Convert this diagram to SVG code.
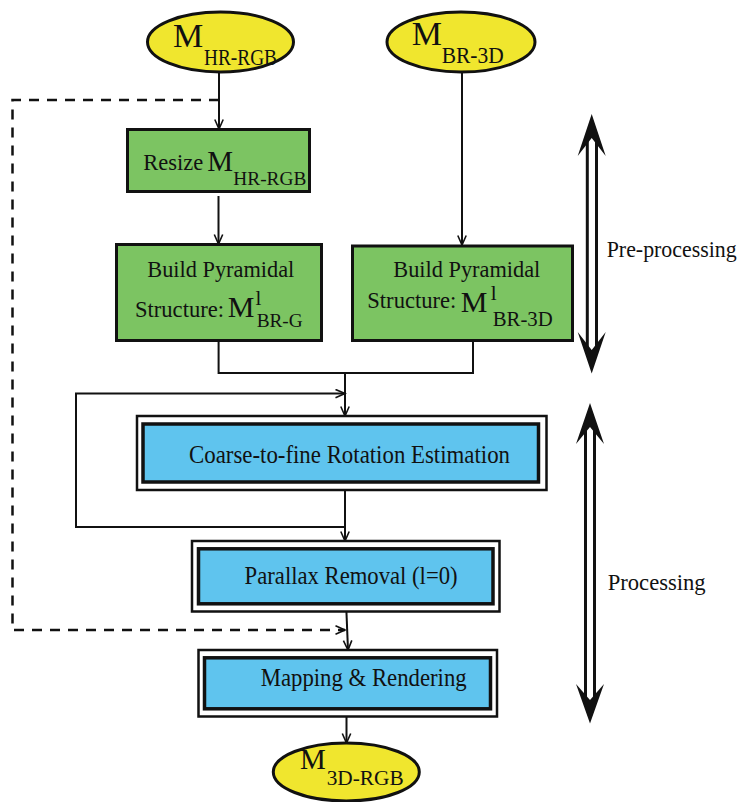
<svg xmlns="http://www.w3.org/2000/svg" width="745" height="802" viewBox="0 0 745 802">
<defs>
<style>
.t{font-family:"Liberation Serif","Times New Roman",serif;fill:#111;}
.ell{fill:#f0e62e;stroke:#111;stroke-width:3;}
.grn{fill:#7cc462;stroke:#111;stroke-width:3;}
.outer{fill:#fff;stroke:#111;stroke-width:2.5;}
.blue{fill:#5fc4ee;stroke:#111;stroke-width:3.5;}
.c{fill:none;stroke:#111;stroke-width:2;}
.d{fill:none;stroke:#111;stroke-width:2.5;stroke-dasharray:10 8;}
.stem{stroke:#111;stroke-width:3;}
</style>
<marker id="ah" markerWidth="12" markerHeight="12" refX="10" refY="5" orient="auto" markerUnits="userSpaceOnUse">
<path d="M0.5,0.8 L10,5 L0.5,9.2" fill="none" stroke="#111" stroke-width="1.6"/>
</marker>
</defs>

<g id="connectors">
<line class="c" x1="219" y1="72" x2="219" y2="129" marker-end="url(#ah)"/>
<polyline class="d" points="219,100 12.5,100 12.5,630 345,630" marker-end="url(#ah)"/>
<line class="c" x1="462" y1="73" x2="462" y2="245" marker-end="url(#ah)"/>
<line class="c" x1="218.5" y1="196" x2="218.5" y2="244" marker-end="url(#ah)"/>
<polyline class="c" points="218.6,342 218.6,373 473,373 473,342"/>
<line class="c" x1="345" y1="373" x2="345" y2="416" marker-end="url(#ah)"/>
<polyline class="c" points="345,527 76,527 76,393.6 345,393.6" marker-end="url(#ah)"/>
<line class="c" x1="345" y1="490" x2="345" y2="541" marker-end="url(#ah)"/>
<line class="c" x1="346.4" y1="611" x2="348" y2="650" marker-end="url(#ah)"/>
<line class="c" x1="346.5" y1="716" x2="346.5" y2="743" marker-end="url(#ah)"/>
</g>

<g id="m-hr-rgb">
<ellipse class="ell" cx="220.5" cy="42" rx="73" ry="30"/>
<text class="t" font-size="34"><tspan x="173" y="46.7">M</tspan><tspan x="204" y="65" font-size="24" textLength="73" lengthAdjust="spacingAndGlyphs">HR-RGB</tspan></text>
</g>

<g id="m-br-3d">
<ellipse class="ell" cx="461" cy="42" rx="74" ry="30"/>
<text class="t" font-size="34"><tspan x="411.7" y="45">M</tspan><tspan x="441.7" y="63.3" font-size="23" textLength="62" lengthAdjust="spacingAndGlyphs">BR-3D</tspan></text>
</g>

<g id="resize">
<rect class="grn" x="127.5" y="129.5" width="182" height="62"/>
<text class="t" font-size="23"><tspan x="143.3" y="170" textLength="60" lengthAdjust="spacingAndGlyphs">Resize</tspan><tspan x="207.3" y="170.7" font-size="29">M</tspan><tspan x="233.3" y="185" font-size="19.5" textLength="73" lengthAdjust="spacingAndGlyphs">HR-RGB</tspan></text>
</g>

<g id="pyramid-left">
<rect class="grn" x="116.5" y="244.5" width="205" height="96"/>
<text class="t" x="147.3" y="276.7" font-size="23.5" textLength="147" lengthAdjust="spacingAndGlyphs">Build Pyramidal</text>
<text class="t" font-size="22.6"><tspan x="135" y="316.7" textLength="89" lengthAdjust="spacingAndGlyphs">Structure:</tspan><tspan x="227.8" y="316.7" font-size="30">M</tspan><tspan x="255.5" y="305" font-size="21">l</tspan><tspan x="256.7" y="327.3" font-size="19" textLength="46" lengthAdjust="spacingAndGlyphs">BR-G</tspan></text>
</g>

<g id="pyramid-right">
<rect class="grn" x="352.5" y="246" width="220" height="94.5"/>
<text class="t" x="393.3" y="276.7" font-size="23.5" textLength="147" lengthAdjust="spacingAndGlyphs">Build Pyramidal</text>
<text class="t" font-size="22.6"><tspan x="367.3" y="308.3" textLength="89" lengthAdjust="spacingAndGlyphs">Structure:</tspan><tspan x="460.7" y="311.7" font-size="30">M</tspan><tspan x="490.7" y="299.5" font-size="21">l</tspan><tspan x="492.7" y="326" font-size="20.5" textLength="60" lengthAdjust="spacingAndGlyphs">BR-3D</tspan></text>
</g>

<g id="rotation">
<rect class="outer" x="137" y="416" width="409.5" height="74"/>
<rect class="blue" x="143" y="424" width="395.5" height="58"/>
<text class="t" x="189" y="463" font-size="26" textLength="321" lengthAdjust="spacingAndGlyphs">Coarse-to-fine Rotation Estimation</text>
</g>

<g id="parallax">
<rect class="outer" x="192" y="541" width="307.5" height="70.5"/>
<rect class="blue" x="198.5" y="548.8" width="294.5" height="55"/>
<text class="t" x="244.6" y="584.3" font-size="25" textLength="213" lengthAdjust="spacingAndGlyphs">Parallax Removal (l=0)</text>
</g>

<g id="mapping">
<rect class="outer" x="198.5" y="650" width="298.5" height="66.5"/>
<rect class="blue" x="204.5" y="657.8" width="286" height="51"/>
<text class="t" x="260.7" y="686" font-size="25" textLength="206" lengthAdjust="spacingAndGlyphs">Mapping &amp; Rendering</text>
</g>

<g id="m-3d-rgb">
<ellipse class="ell" cx="346.3" cy="772" rx="73" ry="29"/>
<text class="t" font-size="29"><tspan x="300" y="769.3">M</tspan><tspan x="326.7" y="785" font-size="20" textLength="77" lengthAdjust="spacingAndGlyphs">3D-RGB</tspan></text>
</g>

<g id="pre-processing">
<line class="stem" x1="587.3" y1="136" x2="587.3" y2="352"/>
<line class="stem" x1="596.5" y1="136" x2="596.5" y2="352"/>
<polygon fill="#111" points="591.7,114 605.7,156 591.7,138 577.7,156"/>
<polygon fill="#111" points="591.7,373.5 605.7,332 591.7,350 577.7,332"/>
<text class="t" x="606.7" y="256.7" font-size="23" textLength="130" lengthAdjust="spacingAndGlyphs">Pre-processing</text>
</g>

<g id="processing">
<line class="stem" x1="585.5" y1="425" x2="585.5" y2="702"/>
<line class="stem" x1="594.5" y1="425" x2="594.5" y2="702"/>
<polygon fill="#111" points="590,403 604,444 590,427 576,444"/>
<polygon fill="#111" points="590,723.5 604,684 590,700 576,684"/>
<text class="t" x="607.7" y="590" font-size="23" textLength="98" lengthAdjust="spacingAndGlyphs">Processing</text>
</g>
</svg>
